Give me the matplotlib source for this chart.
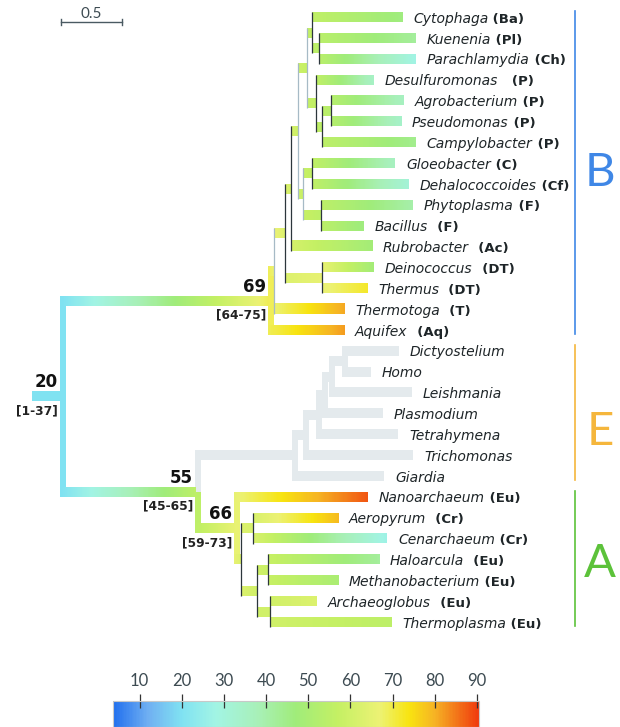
import numpy as np
import matplotlib.pyplot as plt
from matplotlib.colors import LinearSegmentedColormap, Normalize
from matplotlib.patches import Rectangle
from matplotlib.cm import ScalarMappable

# tree in preorder: node, parent, branch length, estimated temperature (nan = eukaryote)
node = ['root', 'N69', 'X', 'Y', 'W', 'V', 'U', 'CKP', 'Cytophaga', 'KP', 'Kuenenia', 'Parachlamydia',
        'S', 'Desulfuromonas', 'R', 'AP', 'Agrobacterium', 'Pseudomonas', 'Campylobacter',
        'T', 'GD', 'Gloeobacter', 'Dehalococcoides', 'PB', 'Phytoplasma', 'Bacillus', 'Rubrobacter',
        'DT', 'Deinococcus', 'Thermus', 'Thermotoga', 'Aquifex',
        'N55', 'E', 'E1', 'E2', 'E3', 'E4', 'DH', 'Dictyostelium', 'Homo', 'Leishmania', 'Plasmodium',
        'Tetrahymena', 'Trichomonas', 'Giardia',
        'N66', 'Nanoarchaeum', 'Z', 'AC', 'Aeropyrum', 'Cenarchaeum', 'HMAT', 'HM', 'Haloarcula',
        'Methanobacterium', 'AT', 'Archaeoglobus', 'Thermoplasma']
parent = [None, 'root', 'N69', 'X', 'Y', 'W', 'V', 'U', 'CKP', 'CKP', 'KP', 'KP',
          'U', 'S', 'S', 'R', 'AP', 'AP', 'R',
          'V', 'T', 'GD', 'GD', 'T', 'PB', 'PB', 'W',
          'Y', 'DT', 'DT', 'X', 'N69',
          'root', 'N55', 'E', 'E1', 'E2', 'E3', 'E4', 'DH', 'DH', 'E4', 'E3',
          'E2', 'E1', 'E',
          'N55', 'N66', 'N66', 'Z', 'AC', 'AC', 'Z', 'HMAT', 'HM',
          'HM', 'HMAT', 'AT', 'AT']
branch = [0.0, 1.705, 0.049, 0.090, 0.049, 0.057, 0.074, 0.041, 0.738, 0.057, 0.795, 0.795,
          0.074, 0.475, 0.049, 0.074, 0.598, 0.574, 0.770,
          0.041, 0.074, 0.680, 0.795, 0.148, 0.754, 0.352, 0.664,
          0.303, 0.426, 0.369, 0.574, 0.623,
          1.107, 0.795, 0.090, 0.107, 0.049, 0.057, 0.107, 0.467, 0.238, 0.680, 0.500,
          0.672, 0.902, 0.754,
          0.320, 1.098, 0.057, 0.098, 0.697, 1.098, 0.131, 0.090, 0.910,
          0.574, 0.107, 0.385, 0.992]
nan = np.nan
temp = [20, 69, 67, 63, 61, 59, 57, 56, 46, 54, 42, 28,
        56, 35, 55, 53, 36, 34, 44,
        58, 56, 36, 31, 55, 40, 46, 48,
        66, 48, 72, 81, 82,
        55, nan, nan, nan, nan, nan, nan, nan, nan, nan, nan,
        nan, nan, nan,
        66, 88, 63, 62, 79, 27, 60, 58, 42,
        50, 60, 63, 55]

# phylum tag after each leaf name, top to bottom
leaf_group = [' (Ba)', ' (Pl)', ' (Ch)', '   (P)', ' (P)', ' (P)', ' (P)', ' (C)', ' (Cf)',
              ' (F)', '  (F)', '  (Ac)', '  (DT)', '  (DT)', '  (T)', '  (Aq)',
              '', '', '', '', '', '', '',
              ' (Eu)', '  (Cr)', ' (Cr)', '  (Eu)', ' (Eu)', '  (Eu)', ' (Eu)']

est_node = ['root', 'N69', 'N55', 'N66']
est_temp = ['20', '69', '55', '66']
est_range = ['[1-37]', '[64-75]', '[45-65]', '[59-73]']

domains = ['B', 'E', 'A']
domain_first = [0, 16, 23]
domain_last = [15, 22, 29]
domain_ypos = [7.5, 19.9, 26.2]
domain_colors = ['#3f87e6', '#f5b63c', '#5cc23a']

cbar_ticks = [10, 20, 30, 40, 50, 60, 70, 80, 90]
temp_min, temp_max = 3.7, 90.5
root_stub = 0.23
scale_len = 0.5

thick = {'root', 'N69', 'N55', 'N66', 'E', 'E1', 'E2', 'E3', 'E4', 'DH'}
thin_light = {'X', 'V', 'U', 'T'}

stops = [(3.7, '#2270ee'), (12, '#70b0f2'), (20, '#80e2f2'), (28, '#a2f4e4'), (38, '#a8f0b8'),
         (47, '#a0ec7a'), (57, '#c4f064'), (67, '#ecf274'), (74, '#f8e410'), (80, '#f6b424'),
         (90.5, '#f03a0e')]
cmap = LinearSegmentedColormap.from_list(
    'temp', [((v - temp_min) / (temp_max - temp_min), c) for v, c in stops])
norm = Normalize(temp_min, temp_max)
euk_grey = '#e4eaed'

# layout
T = dict(zip(node, temp))
children = {n: [] for n in node}
for n, p in zip(node, parent):
    if p is not None:
        children[p].append(n)
x = {}
for n, p, b in zip(node, parent, branch):
    x[n] = 0.0 if p is None else x[p] + b
leaves = [n for n in node if not children[n]]
y = {n: i for i, n in enumerate(leaves)}
for n in reversed(node):
    if children[n]:
        y[n] = (y[children[n][0]] + y[children[n][-1]]) / 2

PX = 122.0    # pixels per unit of branch length
ROW = 20.86   # pixels per leaf row
bar_h = 10 / ROW
vert_w = 5.5 / PX

fig = plt.figure(figsize=(6.2, 7.27), dpi=100)
ax = fig.add_axes([0, 0, 1, 1])
ax.axis('off')


def grad_bar(x0, x1, yc, t0, t1):
    img = np.linspace(t0, t1, 80)[None, :]
    ax.imshow(img, extent=(x0, x1, yc + bar_h / 2, yc - bar_h / 2), cmap=cmap, norm=norm,
              aspect='auto', interpolation='bilinear', zorder=2)


# thick vertical connectors
for n in node:
    if n not in thick:
        continue
    for c in children[n]:
        y1 = y[c] + (bar_h / 2 if y[c] > y[n] else -bar_h / 2)
        col = euk_grey if np.isnan(T[c]) else cmap(norm(T[n]))
        ax.add_patch(Rectangle((x[n], min(y[n], y1)), vert_w, abs(y1 - y[n]),
                               color=col, lw=0, zorder=1))

# horizontal branches
grad_bar(-root_stub, 0, y['root'], T['root'], T['root'])
for n, p in zip(node, parent):
    if p is None:
        continue
    if np.isnan(T[n]):
        ax.add_patch(Rectangle((x[p], y[n] - bar_h / 2), x[n] - x[p], bar_h,
                               color=euk_grey, lw=0, zorder=2))
    else:
        grad_bar(x[p], x[n], y[n], T[p], T[n])

# thin vertical connectors
for n in node:
    if children[n] and n not in thick:
        c0, c1 = children[n][0], children[n][-1]
        col = '#a6bac6' if n in thin_light else '#2c363c'
        ax.plot([x[n], x[n]], [y[c0] - bar_h / 2, y[c1] + bar_h / 2], color=col, lw=0.9,
                zorder=3, solid_capstyle='butt')

# leaf labels
for i, n in enumerate(leaves):
    t = ax.text(x[n] + 11 / PX, y[n] + 5.7 / ROW, n, style='italic', fontsize=10,
                va='baseline', ha='left', color='#1e2528')
    if leaf_group[i]:
        ax.annotate(leaf_group[i], xy=(1, 0), xycoords=t, va='bottom', ha='left',
                    fontsize=9.5, fontweight='bold', color='#1e2528')

# node temperature estimates
for n, v, r in zip(est_node, est_temp, est_range):
    ax.text(x[n] - 2 / PX, y[n] - 14 / ROW, v, ha='right', va='center', fontsize=12,
            fontweight='bold', color='#111111')
    ax.text(x[n] - 2 / PX, y[n] + 14.5 / ROW, r, ha='right', va='center', fontsize=8.8,
            fontweight='bold', color='#222222')

# domain brackets
dom_x = 515 / PX
for d, f, l, yp, c in zip(domains, domain_first, domain_last, domain_ypos, domain_colors):
    ax.plot([dom_x, dom_x], [f - 0.3, l + 0.2], color=c, lw=1.2)
    ax.text(dom_x + 25 / PX, yp, d, fontsize=34, color=c, ha='center', va='center',
            family='Lato', fontweight='normal')

# scale bar
sx0, sy = 1 / PX, 5 / ROW
ax.plot([sx0, sx0 + scale_len], [sy, sy], color='#4a5a62', lw=1)
for sx in (sx0, sx0 + scale_len):
    ax.plot([sx, sx], [sy - 3 / ROW, sy + 3 / ROW], color='#4a5a62', lw=1)
ax.text(sx0 + scale_len / 2, sy - 8 / ROW, str(scale_len), ha='center', va='center',
        fontsize=11, color='#3d4b52', family='Lato', fontweight='normal')

ax.set_xlim(-60 / PX, 560 / PX)
ax.set_ylim((727 - 17) / ROW, -17 / ROW)

# colour bar
cax = fig.add_axes([113 / 620, 0, 366 / 620, 26 / 727])
cb = fig.colorbar(ScalarMappable(norm=norm, cmap=cmap), cax=cax, orientation='horizontal',
                  ticks=cbar_ticks)
cax.xaxis.set_ticks_position('top')
cax.tick_params(axis='x', direction='inout', length=10, width=0.9, color='#333333', pad=3.5,
                labelsize=12, labelcolor='#3d4b52')
for lab in cax.get_xticklabels():
    lab.set_family('Lato')
    lab.set_fontweight('normal')
cb.outline.set_edgecolor('#c8c8c8')
cb.outline.set_linewidth(0.8)

fig.savefig('out.png', dpi=100)
